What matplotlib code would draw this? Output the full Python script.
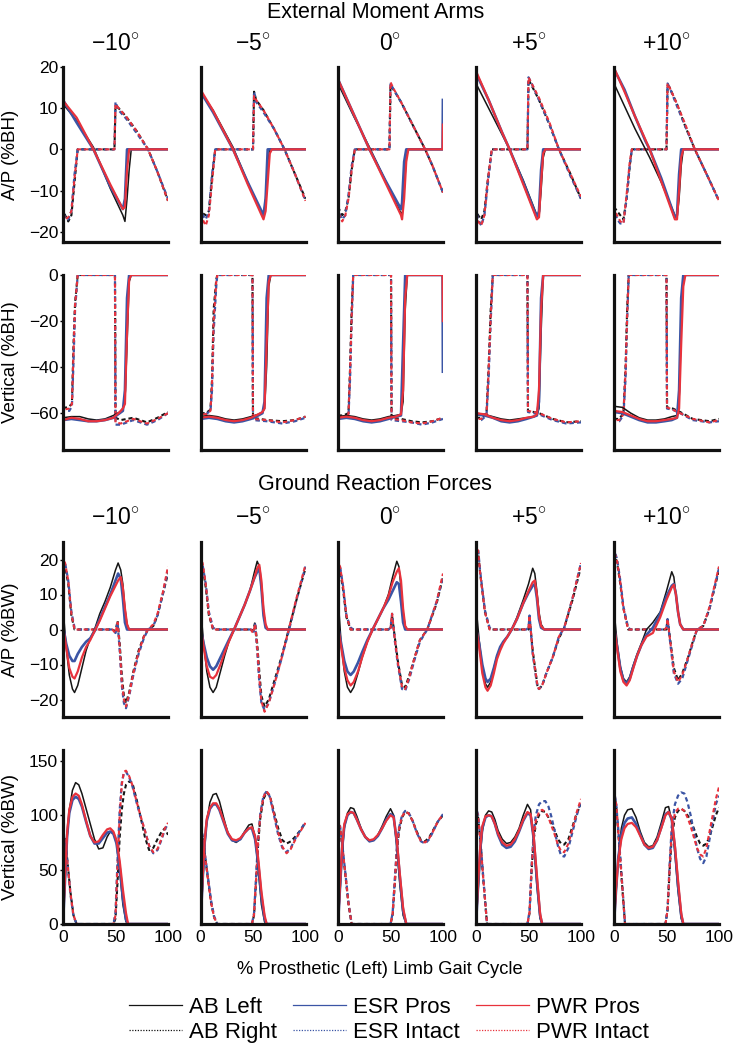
import matplotlib

matplotlib.use("Agg")
import matplotlib.pyplot as plt
from matplotlib.lines import Line2D

plt.rcParams["font.family"] = ["Liberation Sans", "DejaVu Sans"]
plt.rcParams["mathtext.fontset"] = "custom"
plt.rcParams["mathtext.rm"] = "Liberation Sans"
plt.rcParams["axes.unicode_minus"] = True

# =============================================================================
# DATA  (x = % prosthetic (left) limb gait cycle, one list per tilt column)
# =============================================================================

TILTS = ["\u221210", "\u22125", "0", "+5", "+10"]
SERIES = ["AB Left", "AB Right", "ESR Pros", "ESR Intact", "PWR Pros", "PWR Intact"]

# ---- external moment arm, anterior/posterior (%BH) --------------------------
MA_AP_SOLID_X = [
    [0, 13, 29, 45, 57, 59, 61, 63, 65, 100],
    [0, 12, 31, 45, 60, 62, 64, 66, 68, 100],
    [0, 15, 30, 45, 60, 61, 63, 65, 67, 99.6, 99.9],
    [0, 12, 25, 32, 45, 58, 60, 62, 64, 66, 100],
    [0, 10, 20, 30, 34, 45, 58, 60, 62, 64, 66, 100],
]
MA_AP_AB_LEFT = [
    [11, 7, 0.5, -9.5, -16, -17.5, -12, -5, 0, 0],
    [14, 9.5, 0.5, -8, -16.5, -12, -3, 0, 0, 0],
    [16, 8, 0.5, -7.5, -15.5, -16.5, -10, -2, 0, 0, 0],
    [16, 10, 3.5, 0, -7.5, -16, -16.5, -10, -2, 0, 0],
    [16, 10.5, 5, 0, -2, -8, -16, -16.5, -12, -4, 0, 0],
]
MA_AP_ESR_PROS = [
    [12, 6.5, 0, -9, -14.5, -12, 0, 0, 0, 0],
    [14, 9, 0, -8, -16, -12, 0, 0, 0, 0],
    [17, 8.5, 0, -7.5, -14.5, -13, -3, 0, 0, 0, 12],
    [18.5, 12, 4, 0, -8, -16.5, -15, -5, 0, 0, 0],
    [19.5, 14.5, 8, 2, 0, -7, -16.5, -16, -6, 0, 0, 0],
]
MA_AP_PWR_PROS = [
    [11.8, 7.7, 0, -8.5, -14.5, -14, -5, 0, 0, 0],
    [14.5, 9.4, 0, -8.5, -17, -15, -8, -1, 0, 0],
    [17, 8.5, 0, -8, -16, -17, -12, -3, 0, 0, 6],
    [19, 12, 4, 0, -8.5, -17, -16.5, -8, -1, 0, 0],
    [19.8, 14, 8, 2.3, 0, -7.8, -17, -17, -10, -2, 0, 0],
]
MA_AP_DASH_X = [
    [0, 2, 5, 8, 11, 14, 49, 50, 53, 60, 70, 81, 90, 100],
    [0, 2, 5, 8, 11, 14, 50, 51, 53, 60, 70, 80, 90, 100],
    [0, 2, 4, 7, 10, 13, 16, 49, 50, 53, 60, 70, 83, 90, 100],
    [0, 2, 5, 8, 11, 15, 49, 50, 53, 60, 70, 79, 90, 100],
    [0, 3, 6, 9, 12, 15, 17, 50, 51, 53, 60, 68, 77, 90, 100],
]
MA_AP_AB_RIGHT = [
    [-14, -16, -17.5, -16, -8, 0, 0, 10.5, 10, 8, 4.5, 0, -5.5, -12.5],
    [-14, -15.5, -16, -15, -7, 0, 0, 14, 12, 9.5, 5, 0, -6, -12],
    [-14, -15, -16, -15, -12, -5, 0, 0, 15.5, 14.5, 11.5, 6.5, 0, -4, -10.5],
    [-14, -16, -17, -15, -8, 0, 0, 17, 15.5, 12, 6, 0, -6, -12],
    [-14, -15, -16, -17, -12, -4, 0, 0, 15.5, 15, 11, 5.5, 0, -7, -12.5],
]
MA_AP_ESR_INTACT = [
    [-14.5, -17, -17, -15, -6, 0, 0, 11.5, 9.5, 7.5, 4, 0, -5.5, -12],
    [-14.5, -16, -17, -15, -6, 0, 0, 14, 11.5, 9, 5, 0, -6, -12.5],
    [-14.5, -16, -17, -16, -11, -4, 0, 0, 16, 14.5, 11.5, 6.5, 0, -4, -10.5],
    [-14.5, -17, -18.5, -16, -9, 0, 0, 17.5, 16, 12, 6, 0, -6.5, -12],
    [-14.5, -17, -18, -18, -12, -4, 0, 0, 16, 15, 10.5, 5.5, 0, -7, -12.5],
]
MA_AP_PWR_INTACT = [
    [-15, -17, -16.5, -15, -7, 0, 0, 11, 10, 8, 4.5, 0, -5.5, -12.5],
    [-15, -17, -18.5, -16, -8, 0, 0, 13, 12, 9.5, 5, 0, -6, -12.5],
    [-15, -16.5, -17.5, -16, -12, -5, 0, 0, 16.3, 14.7, 11.5, 6.5, 0, -4, -10.5],
    [-15, -17.5, -18.5, -16, -8, 0, 0, 17.5, 16, 12.5, 6.5, 0, -6, -11.5],
    [-15, -16, -17.5, -18, -11, -3, 0, 0, 16, 15, 11, 6, 0, -7, -12.5],
]

# ---- external moment arm, vertical (%BH) ------------------------------------
MA_V_SOLID_X = [
    [0, 8, 16, 24, 32, 40, 48, 54, 57, 59, 61, 63, 65, 100],
    [0, 8, 16, 24, 32, 40, 48, 55, 59, 61, 63, 65, 67, 100],
    [0, 8, 16, 24, 32, 40, 48, 55, 60, 62, 64, 66, 99.6, 99.9],
    [0, 8, 16, 24, 32, 40, 48, 55, 58, 60, 62, 64, 66, 100],
    [0, 8, 16, 24, 32, 40, 48, 55, 60, 62, 64, 66, 68, 100],
]
MA_V_AB_LEFT = [
    [-62, -61.5, -61.5, -62.5, -63, -62.5, -61, -59.5, -58, -55, -30, -3, 0, 0],
    [-61.5, -61, -61.5, -62.5, -63, -62.5, -61.5, -60.5, -59.5, -58, -40, -5, 0, 0],
    [-61.5, -61, -61.5, -62.5, -63, -62.5, -61.5, -61, -60.5, -55, -15, 0, 0, 0],
    [-60, -60.5, -61.5, -62.5, -63, -62.5, -62, -61.5, -61, -58, -25, 0, 0, 0],
    [-57, -57.5, -60, -62, -63, -63, -62.5, -61.5, -61, -55, -20, -2, 0, 0],
]
MA_V_ESR_PROS = [
    [-63, -62.5, -63, -63.5, -63.5, -63, -62, -60, -59, -50, -10, 0, 0, 0],
    [-62.5, -62, -62.5, -63.5, -64, -63.5, -62.5, -61, -60, -55, -10, 0, 0, 0],
    [-62.5, -62, -62.5, -63.5, -64, -63.5, -62.5, -61.5, -61, -30, 0, 0, 0, -42],
    [-60.5, -61, -62, -63.5, -64, -63.5, -62.5, -61.5, -61, -55, -10, 0, 0, 0],
    [-59.5, -60, -61.5, -63, -64, -64, -63.5, -63, -62, -50, -10, 0, 0, 0],
]
MA_V_PWR_PROS = [
    [-63, -62, -62.5, -63.5, -63.5, -63, -62, -59.5, -58, -56, -25, -2, 0, 0],
    [-62, -61.5, -62, -63, -63.5, -63, -62, -60.5, -59.5, -58, -30, -3, 0, 0],
    [-62, -61.5, -62, -63, -63.5, -63, -62, -61.5, -60.5, -50, -10, 0, 0, -20],
    [-60, -60.5, -62, -63, -63.5, -63, -62, -61.5, -60.5, -50, -15, 0, 0, 0],
    [-59, -59.5, -61, -62.5, -63.5, -63.5, -63, -62.5, -62, -58, -30, -5, 0, 0],
]
MA_V_DASH_X = [
    [0, 6, 8.5, 10, 11.5, 14, 49.5, 50, 55, 67, 80, 90, 100],
    [0, 5, 9.5, 11, 12.5, 15, 16, 49.5, 50, 63, 78, 90, 100],
    [0, 5, 10, 11.5, 13, 14.5, 50.5, 51, 60, 70, 80, 90, 100],
    [0, 5, 10, 12, 14, 16, 49, 49.5, 55, 60, 73, 86, 100],
    [0, 5, 9, 11, 12.5, 14, 50, 50.5, 56, 63, 75, 91, 100],
]
MA_V_AB_RIGHT = [
    [-58, -57, -56, -30, -12, 0, 0, -62, -63, -62, -64, -62, -59.5],
    [-60, -60, -58.5, -45, -15, -2, 0, 0, -62, -63, -63.5, -63, -61.5],
    [-61, -61, -60, -40, -15, 0, 0, -62, -62.5, -63.5, -64, -63.5, -62],
    [-62, -62, -60, -40, -15, 0, 0, -59, -59.5, -60, -62.5, -64, -63.5],
    [-62.5, -62.5, -60, -40, -15, 0, 0, -57.5, -58, -59.5, -62.5, -63.5, -62.5],
]
MA_V_ESR_INTACT = [
    [-59, -59, -57, -38, -15, 0, 0, -65, -65, -63, -65, -63, -60],
    [-61, -60.5, -59, -50, -25, -5, 0, 0, -63, -63.5, -64.5, -63.5, -62],
    [-62, -62, -61, -45, -20, 0, 0, -63, -63.5, -64, -65, -64, -62.5],
    [-63, -63, -61, -45, -20, 0, 0, -59.5, -60, -60.5, -63, -64.5, -64],
    [-63.5, -63.5, -61, -45, -20, 0, 0, -58, -58.5, -60, -63, -64, -63.5],
]
MA_V_PWR_INTACT = [
    [-58.5, -58, -56, -34, -13, 0, 0, -64, -64.5, -62.5, -64.5, -62.5, -60],
    [-60.5, -60.5, -59, -47, -20, -3, 0, 0, -62.5, -63, -64, -63, -61.5],
    [-61.5, -61.5, -60.5, -42, -18, 0, 0, -62.5, -63, -64, -64.5, -63.5, -62],
    [-62.5, -62.5, -60.5, -42, -18, 0, 0, -59, -59.5, -60, -62.5, -64, -63.5],
    [-63, -63, -60.5, -42, -18, 0, 0, -57.5, -58.5, -60, -62.5, -64, -63],
]

# ---- ground reaction force, anterior/posterior (%BW) ------------------------
GRF_AP_SOLID_X = [
    [0, 1, 3, 6, 9, 11, 14, 18, 22, 26, 30, 35, 40, 45, 50, 52.5, 55, 57, 59, 61, 63, 100],
    [0, 1, 3, 6, 9, 12, 15, 19, 23, 27, 32, 37, 42, 47, 51, 54, 56, 58, 60, 62, 64, 100],
    [0, 1, 3, 6, 9, 12, 15, 19, 23, 28, 33, 38, 43, 48, 52, 56, 58, 60, 62, 64, 66, 100],
    [0, 1, 3, 6, 9, 11, 14, 17, 20, 23, 26, 30, 34, 39, 45, 50, 54, 56, 58, 60, 62, 65, 100],
    [0, 1, 3, 6, 9, 12, 15, 18, 22, 26, 31, 37, 44, 50, 55, 57, 59, 61, 63, 66, 100],
]
GRF_AP_AB_LEFT = [
    [1.5, 2.6, -5, -13, -17, -18, -16, -11, -6, -2.5, 0, 4.5, 8, 12, 17, 19, 17, 13, 6, 1.5, 0, 0],
    [2, 3, -4, -12, -16.5, -18, -16.5, -12, -7.5, -3.5, 0, 3.5, 7, 11, 16, 19.5, 18, 12, 5, 1, 0, 0],
    [3, 5, -4, -12, -16.5, -18, -16.5, -12.5, -8, -3.5, 0, 3, 6, 10, 15, 19.5, 18, 12, 5, 1, 0, 0],
    [2, 3.5, -3, -11, -15.5, -16.5, -15, -11, -7.5, -5.5, -3.5, -2, 0, 3.5, 8.5, 13, 17.5, 16, 11, 5, 1.5, 0, 0],
    [1.5, 2.5, -4, -10.5, -14, -15, -13.5, -10.5, -7, -4, 0, 2, 5, 11, 16.5, 15, 10, 5, 1.5, 0, 0],
]
GRF_AP_ESR_PROS = [
    [0, -0.5, -4, -7.5, -9, -9, -7, -5, -3.5, -2.5, -0.5, 3, 6.5, 10, 14, 16, 14.5, 9, 2, 0, 0, 0],
    [0, -1, -4, -8, -10.5, -11.5, -10.5, -8, -5.5, -3, 0, 3.5, 7, 11, 14.5, 16.5, 17.5, 12, 4, 0.5, 0, 0],
    [0, -0.5, -4, -9, -12, -13, -12, -9.5, -6.5, -3, 0, 3, 6, 8.5, 11, 13.5, 13, 8, 2, 0, 0, 0],
    [0, -1, -4, -10, -14, -15, -14, -11, -7.5, -5, -3.5, -2, 0, 3, 7.5, 10.5, 12.5, 13, 9, 3, 0.5, 0, 0],
    [0, -1, -5, -11, -14.5, -15.5, -14, -11, -7.5, -4.5, -1.5, 0.5, 4.5, 9.5, 12.5, 13, 10, 5, 1.5, 0, 0],
]
GRF_AP_PWR_PROS = [
    [0, -1, -5, -11, -13.5, -14, -12, -8, -5, -3, -0.5, 2.5, 6, 9.5, 12.5, 14, 15, 12, 6, 1.5, 0, 0],
    [0, -1, -5, -10.5, -13.5, -14, -13, -10, -6.5, -3.5, 0, 3.5, 7, 11, 14.5, 17.5, 18.5, 14, 6, 1.5, 0, 0],
    [0, -1, -5, -11, -14.5, -16, -15, -12, -8, -3.5, 0, 3, 6, 9.5, 13.5, 16.5, 17.5, 14, 6, 1, 0, 0],
    [0, -1, -5, -12.5, -16.5, -17.5, -16, -12.5, -8.5, -6, -4, -2, 0, 3, 7.5, 11, 13.5, 14, 10, 4, 1, 0, 0],
    [0, -1, -5.5, -12, -15, -16, -14.5, -11.5, -7.5, -4.5, -2, -1, 3.5, 8.5, 12, 12.8, 10, 5, 1.5, 0, 0],
]
GRF_AP_DASH_X = [
    [0, 2, 5, 8, 11, 14, 47, 50, 52, 54, 56, 58, 60, 63, 67, 72, 77, 81, 86, 90, 95, 100],
    [0, 2, 5, 8, 12, 15, 48, 50, 52, 54, 56, 58, 61, 65, 70, 77, 84, 91, 100],
    [0, 2, 5, 8, 12, 15, 48, 50, 51.5, 54, 57, 61, 64, 68, 73, 78, 85, 94, 100],
    [0, 2, 4, 8.5, 13, 16, 48, 50, 51, 54, 58.5, 60, 63, 67, 73, 79, 84, 92, 100],
    [0, 3, 6, 9, 13.5, 16, 48, 50, 51, 54, 57, 61, 65, 70.5, 75, 79, 85, 91, 100],
]
GRF_AP_AB_RIGHT = [
    [19, 18, 13, 4, 0, 0, 0, -0.5, 2.5, -4, -13, -19, -21, -18, -12, -6, -2, 0, 1, 4, 10, 16],
    [19, 18, 12, 4, 0, 0, 0, -0.5, 2, -4, -12, -19, -22, -20, -15, -8, 0, 8, 17.5],
    [18, 17, 11, 3.5, 0, 0, 0, 0, 4, -2, -9, -16, -16.5, -13, -8, -3, 0, 7.5, 15],
    [23, 22, 16, 5, 0, 0, 0, 0, 3.5, -6, -16, -17, -16, -12.5, -8, -2.5, 0.5, 8.5, 18],
    [22, 19, 13, 6, 0, 0, 0, 0, 3, -4, -11, -14.5, -12.5, -8, -3.5, 0, 1, 6, 17],
]
GRF_AP_ESR_INTACT = [
    [20, 19, 14, 5, 0.5, 0, 0, -1, 2, -6, -16, -21, -22.5, -19, -13, -7, -2.5, 0, 1, 4, 10, 17],
    [19.5, 18.5, 13, 5, 0.5, 0, 0, -1, 1.5, -6, -15, -21, -23, -21, -16, -8.5, -0.5, 8, 18],
    [19, 18, 12, 4, 0.5, 0, 0, 0.5, 4.5, -3, -10, -17, -17.5, -14, -8.5, -3.5, 0, 8, 15],
    [24, 23, 16.5, 5.5, 0.5, 0, 0, 0.5, 4, -7, -16.5, -17, -16, -12.5, -8, -2, 0.5, 9, 19],
    [23, 20, 14, 6.5, 0.5, 0, 0, 0.5, 3, -5, -12.5, -15.5, -14, -8.5, -4, 0, 1, 6, 17.5],
]
GRF_AP_PWR_INTACT = [
    [20, 19, 14, 4.5, 0, 0, 0, -1, 2, -5, -15, -20, -22, -18.5, -12.5, -6.5, -2, 0, 1.5, 4.5, 10.5, 18],
    [20, 19, 13, 4.5, 0, 0, 0, -1, 1.5, -5, -14, -20.5, -23.5, -21, -16, -8.5, 0, 8.5, 18.5],
    [19, 18, 12, 4, 0, 0, 0, 0, 4.5, -2.5, -9.5, -16.5, -17, -13.5, -8, -3, 0, 8, 16],
    [23.5, 22.5, 16, 5, 0, 0, 0, 0.5, 4, -6.5, -16, -17, -16, -12.5, -8, -2, 0.5, 9, 19],
    [22.5, 19.5, 13.5, 6, 0, 0, 0, 0.5, 3, -4.5, -12, -15, -13, -8, -3.5, 0, 1, 6.5, 18],
]

# ---- ground reaction force, vertical (%BW) ----------------------------------
GRF_V_SOLID_X = [
    [0, 2, 4, 6, 9, 12, 15, 18, 22, 26, 30, 34, 38, 42, 45, 48, 51, 54, 57, 60, 62, 100],
    [0, 2, 4, 6, 9, 12, 15, 18, 22, 26, 30, 34, 38, 42, 46, 49, 52, 55, 58, 61, 63, 100],
    [0, 2, 4, 6, 9, 12, 15, 18, 22, 26, 30, 34, 38, 42, 46, 50, 53, 56, 59, 62, 65, 100],
    [0, 2, 4, 6, 9, 12, 15, 18, 21, 25, 29, 33, 37, 41, 45, 49, 52, 55, 58, 61, 63, 100],
    [0, 2, 4, 7, 10, 13, 17, 21, 25, 29, 33, 37, 41, 45, 49, 52, 55, 58, 61, 64, 66, 100],
]
GRF_V_AB_LEFT = [
    [0, 40, 80, 105, 123, 130, 128, 120, 106, 92, 78, 69, 70, 80, 85, 84, 74, 50, 18, 2, 0, 0],
    [0, 35, 70, 95, 112, 119, 120, 113, 98, 84, 77, 75, 78, 85, 91, 92, 80, 50, 18, 2, 0, 0],
    [0, 30, 65, 88, 102, 107, 106, 99, 88, 80, 76, 77, 82, 90, 99, 106, 100, 70, 35, 8, 0, 0],
    [0, 30, 62, 85, 100, 104, 103, 96, 86, 78, 74, 75, 80, 88, 100, 110, 105, 75, 35, 5, 0, 0],
    [0, 30, 60, 88, 100, 105, 106, 98, 85, 75, 71, 72, 80, 93, 107, 108, 95, 65, 30, 5, 0, 0],
]
GRF_V_ESR_PROS = [
    [0, 42, 82, 102, 114, 117, 115, 108, 94, 81, 74, 74, 79, 84, 85, 83, 74, 52, 24, 4, 0, 0],
    [0, 40, 75, 95, 106, 110, 110, 105, 94, 83, 77, 76, 78, 84, 88, 88, 78, 55, 25, 5, 0, 0],
    [0, 35, 70, 90, 100, 103, 102, 96, 87, 80, 76, 77, 81, 88, 96, 101, 99, 75, 42, 12, 0, 0],
    [0, 35, 68, 88, 98, 100, 99, 92, 82, 73, 70, 71, 76, 85, 95, 102, 100, 78, 40, 8, 0, 0],
    [0, 32, 60, 82, 93, 97, 98, 92, 82, 73, 69, 70, 77, 89, 101, 103, 96, 70, 35, 8, 0, 0],
]
GRF_V_PWR_PROS = [
    [0, 45, 85, 105, 117, 120, 118, 110, 95, 81, 75, 76, 82, 87, 88, 85, 77, 58, 32, 10, 0, 0],
    [0, 42, 77, 97, 107, 111, 111, 106, 95, 84, 78, 77, 79, 84, 88, 89, 81, 60, 30, 8, 0, 0],
    [0, 38, 72, 92, 101, 103, 102, 96, 87, 80, 77, 78, 82, 88, 95, 100, 98, 77, 45, 15, 0, 0],
    [0, 38, 70, 90, 99, 100, 99, 92, 83, 75, 72, 73, 78, 86, 96, 103, 101, 80, 45, 10, 0, 0],
    [0, 33, 58, 78, 88, 92, 93, 89, 81, 73, 70, 71, 77, 88, 100, 103, 97, 72, 40, 10, 0, 0],
]
GRF_V_DASH_X = [
    [0, 2, 4, 7, 10, 13, 48, 50, 52, 54, 56, 58, 60, 63, 66, 70, 74, 78, 82, 86, 90, 94, 97, 100],
    [0, 2, 4, 7, 10, 13, 16, 49, 51, 53, 55, 57, 60, 63, 66, 70, 74, 78, 82, 86, 90, 95, 100],
    [0, 2, 4, 7, 10, 13, 50, 52, 54, 56, 58, 61, 64, 67, 71, 75, 79, 83, 87, 91, 95, 100],
    [0, 2, 4, 7, 10.5, 49, 51, 53, 55, 57, 60, 63, 66, 69, 72, 75, 78, 81, 84, 88, 92, 96, 100],
    [0, 2, 4, 7, 10.5, 49, 51, 53, 55, 58, 61, 64, 67, 70, 73, 76, 79, 82, 85, 88, 91, 94, 97, 100],
]
GRF_V_AB_RIGHT = [
    [80, 78, 60, 30, 8, 0, 0, 5, 40, 80, 105, 120, 128, 131, 130, 115, 98, 80, 68, 70, 78, 85, 88, 82],
    [85, 80, 65, 42, 20, 6, 0, 0, 8, 40, 75, 98, 115, 121, 118, 103, 88, 77, 74, 76, 80, 86, 93],
    [92, 88, 72, 45, 18, 0, 0, 8, 35, 65, 85, 98, 103, 102, 95, 85, 77, 76, 80, 87, 94, 100],
    [105, 98, 78, 40, 0, 0, 10, 50, 78, 92, 100, 104, 103, 98, 92, 86, 78, 74, 73, 78, 90, 102, 110],
    [120, 110, 85, 45, 0, 0, 12, 50, 80, 98, 104, 106, 104, 100, 95, 88, 80, 74, 72, 74, 80, 90, 100, 107],
]
GRF_V_ESR_INTACT = [
    [78, 76, 58, 28, 7, 0, 0, 10, 60, 105, 130, 139, 140, 135, 127, 112, 98, 86, 72, 65, 68, 78, 87, 92],
    [88, 82, 66, 44, 22, 7, 0, 0, 10, 45, 80, 102, 118, 122, 117, 100, 82, 70, 66, 70, 78, 86, 94],
    [95, 90, 74, 47, 20, 0, 0, 10, 40, 70, 88, 100, 104, 103, 95, 84, 76, 74, 78, 86, 94, 101],
    [108, 100, 80, 42, 0, 0, 12, 55, 85, 100, 110, 113, 113, 108, 98, 85, 72, 63, 62, 70, 85, 100, 113],
    [122, 112, 88, 48, 0, 0, 14, 55, 90, 110, 118, 121, 120, 112, 100, 85, 70, 60, 56, 62, 78, 95, 110, 118],
]
GRF_V_PWR_INTACT = [
    [80, 77, 59, 29, 8, 0, 0, 8, 55, 100, 128, 140, 141, 136, 128, 113, 99, 86, 72, 66, 69, 79, 88, 93],
    [86, 80, 65, 42, 20, 6, 0, 0, 9, 42, 78, 100, 117, 122, 118, 101, 84, 71, 65, 69, 77, 85, 93],
    [94, 89, 73, 46, 19, 0, 0, 9, 38, 68, 87, 99, 103, 102, 95, 84, 76, 75, 79, 86, 94, 101],
    [106, 99, 79, 41, 0, 0, 11, 52, 80, 95, 103, 105, 103, 98, 90, 82, 73, 67, 66, 74, 88, 103, 115],
    [121, 111, 86, 46, 0, 0, 13, 52, 85, 102, 106, 106, 104, 98, 90, 80, 70, 64, 62, 70, 85, 100, 115, 126],
]

# =============================================================================
# STYLE / LAYOUT
# =============================================================================

W, H = 735, 1048
BLACK, BLUE, RED = "#151515", "#3b55a5", "#e8323c"
COL_LEFT = [63, 200.5, 338, 476, 614]
COL_WIDTH = 105
ROW_TOP = [67, 275, 542, 750]
ROW_BOTTOM = [242, 450, 717, 924]

ROWS = [
    ("A/P (%BH)", (-22.5, 20), [-20, -10, 0, 10, 20],
     MA_AP_SOLID_X, MA_AP_AB_LEFT, MA_AP_ESR_PROS, MA_AP_PWR_PROS,
     MA_AP_DASH_X, MA_AP_AB_RIGHT, MA_AP_ESR_INTACT, MA_AP_PWR_INTACT),
    ("Vertical (%BH)", (-76, 0), [-60, -40, -20, 0],
     MA_V_SOLID_X, MA_V_AB_LEFT, MA_V_ESR_PROS, MA_V_PWR_PROS,
     MA_V_DASH_X, MA_V_AB_RIGHT, MA_V_ESR_INTACT, MA_V_PWR_INTACT),
    ("A/P (%BW)", (-25, 25), [-20, -10, 0, 10, 20],
     GRF_AP_SOLID_X, GRF_AP_AB_LEFT, GRF_AP_ESR_PROS, GRF_AP_PWR_PROS,
     GRF_AP_DASH_X, GRF_AP_AB_RIGHT, GRF_AP_ESR_INTACT, GRF_AP_PWR_INTACT),
    ("Vertical (%BW)", (0, 160), [0, 50, 100, 150],
     GRF_V_SOLID_X, GRF_V_AB_LEFT, GRF_V_ESR_PROS, GRF_V_PWR_PROS,
     GRF_V_DASH_X, GRF_V_AB_RIGHT, GRF_V_ESR_INTACT, GRF_V_PWR_INTACT),
]


def fx(px):
    return px / W


def fy(px):
    return 1 - px / H


def draw_panel(ax, sx, left, esr, pwr, dx, right, esr_i, pwr_i):
    # intact limb, dashed, offsets so the three colours interleave
    ax.plot(dx, right, color=BLACK, lw=1.5, ls=(0, (2, 1.4)))
    ax.plot(dx, esr_i, color=BLUE, lw=1.6, ls=(1.1, (2, 1.4)))
    ax.plot(dx, pwr_i, color=RED, lw=1.5, ls=(2.2, (2, 1.4)))
    # prosthetic limb, solid
    ax.plot(sx, left, color=BLACK, lw=1.1)
    ax.plot(sx, esr, color=BLUE, lw=1.9)
    ax.plot(sx, pwr, color=RED, lw=1.6)


fig = plt.figure(figsize=(W / 100, H / 100), dpi=100)

for r, row in enumerate(ROWS):
    ylabel, ylim, yticks = row[0], row[1], row[2]
    for c in range(5):
        ax = fig.add_axes([
            fx(COL_LEFT[c]), fy(ROW_BOTTOM[r]),
            COL_WIDTH / W, (ROW_BOTTOM[r] - ROW_TOP[r]) / H,
        ])
        draw_panel(ax, *[d[c] for d in row[3:]])
        ax.set_xlim(0, 100)
        ax.set_ylim(*ylim)
        for side in ("top", "right"):
            ax.spines[side].set_visible(False)
        for side in ("left", "bottom"):
            ax.spines[side].set_linewidth(2.3)
            ax.spines[side].set_color("#111111")
        if c == 0:
            ax.set_yticks(yticks)
            ax.tick_params(axis="y", length=2, width=1, pad=1.5,
                           labelsize=12.5)
        else:
            ax.set_yticks([])
        if r == 3:
            ax.set_xticks([0, 50, 100])
            ax.tick_params(axis="x", length=0, pad=4, labelsize=12.5)
        else:
            ax.set_xticks([])
    fig.text(fx(11), fy((ROW_TOP[r] + ROW_BOTTOM[r]) / 2), ylabel,
             rotation=90, ha="center", va="center", fontsize=13.5)

# column and section titles
for top_y in (44, 518):
    for c, tilt in enumerate(TILTS):
        fig.text(fx(COL_LEFT[c] + COL_WIDTH / 2), fy(top_y),
                 tilt + r"$^{\circ}$", ha="center", va="center",
                 fontsize=16.5)
fig.text(fx(376), fy(12), "External Moment Arms", ha="center",
         va="center", fontsize=15.5)
fig.text(fx(375), fy(485), "Ground Reaction Forces", ha="center",
         va="center", fontsize=15.5)
fig.text(fx(380), fy(969), "% Prosthetic (Left) Limb Gait Cycle",
         ha="center", va="center", fontsize=13.2)

# legend
handles = [
    Line2D([], [], color=BLACK, lw=0.9),
    Line2D([], [], color=BLACK, lw=0.9, ls=(0, (1, 1.2))),
    Line2D([], [], color=BLUE, lw=0.9),
    Line2D([], [], color=BLUE, lw=0.9, ls=(0, (1, 1.2))),
    Line2D([], [], color=RED, lw=0.9),
    Line2D([], [], color=RED, lw=0.9, ls=(0, (1, 1.2))),
]
fig.legend(handles, SERIES, ncol=3, loc="center",
           bbox_to_anchor=(fx(389), fy(1020)), frameon=False, fontsize=16,
           handlelength=2.4, handletextpad=0.32, columnspacing=0.7,
           labelspacing=0.2, borderpad=0)

fig.savefig("out.png", dpi=100)
